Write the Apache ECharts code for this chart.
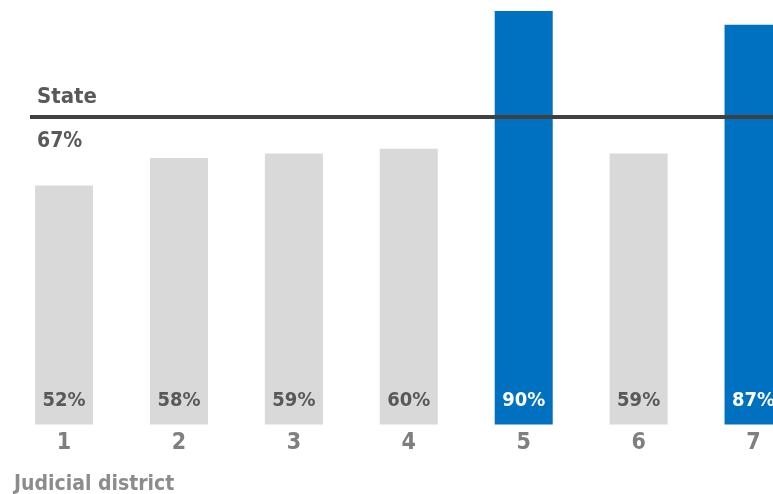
<!DOCTYPE html>
<html>
<head>
<meta charset="utf-8">
<script src="https://cdn.jsdelivr.net/npm/echarts@6/dist/echarts.min.js"></script>
<style>
html,body{margin:0;padding:0;overflow:hidden;background:#fff;}
#c{width:811px;height:494px;}
</style>
</head>
<body>
<div id="c"></div>
<script>
var categories = ['1','2','3','4','5','6','7'];
var values = [52, 58, 59, 60, 90, 59, 87];
var highlighted = [false, false, false, false, true, false, true];
var stateValue = 67;
var stateLabel = 'State';
var axisTitle = 'Judicial district';

var FONT = "'Liberation Sans Narrow','DejaVu Sans Condensed',sans-serif";
var GRAY = '#d9d9d9', BLUE = '#0070c0';

var chart = echarts.init(document.getElementById('c'));
chart.setOption({
  animation: false,
  title: {
    text: axisTitle, left: 9, top: 469,
    textStyle: {fontFamily: FONT, fontWeight: 'bold', fontSize: 21, color: '#8c8c8c'}
  },
  grid: {left: 6.6, right: 0, top: 11, bottom: 69.5, containLabel: false},
  xAxis: {
    type: 'category', data: categories,
    axisLine: {show: false}, axisTick: {show: false},
    axisLabel: {margin: 7, fontFamily: FONT, fontWeight: 'bold', fontSize: 23, color: '#7f7f7f'}
  },
  yAxis: {type: 'value', min: 0, max: 90, show: false, splitLine: {show: false}},
  series: [{
    type: 'bar',
    barWidth: 58,
    data: values.map(function (v, i) {
      return {
        value: v,
        itemStyle: {color: highlighted[i] ? BLUE : GRAY},
        label: {color: highlighted[i] ? '#ffffff' : '#595959'}
      };
    }),
    label: {
      show: true, position: 'insideBottom', distance: 14,
      formatter: '{c}%', fontFamily: FONT, fontWeight: 'bold', fontSize: 20
    },
    markLine: {
      symbol: 'none', silent: true, z: 5,
      lineStyle: {color: '#404040', width: 4, type: 'solid'},
      data: [
        [{x: 30, yAxis: stateValue, label: {show: true, position: 'insideStartTop', formatter: stateLabel, distance: [7, 8], fontSize: 22}},
         {x: 811, yAxis: stateValue}],
        [{x: 30, yAxis: stateValue, label: {show: true, position: 'insideStartBottom', formatter: stateValue + '%', distance: [7, 14], fontSize: 21}},
         {x: 811, yAxis: stateValue}]
      ],
      label: {fontFamily: FONT, fontWeight: 'bold', color: '#595959'}
    }
  }]
});
</script>
</body>
</html>
